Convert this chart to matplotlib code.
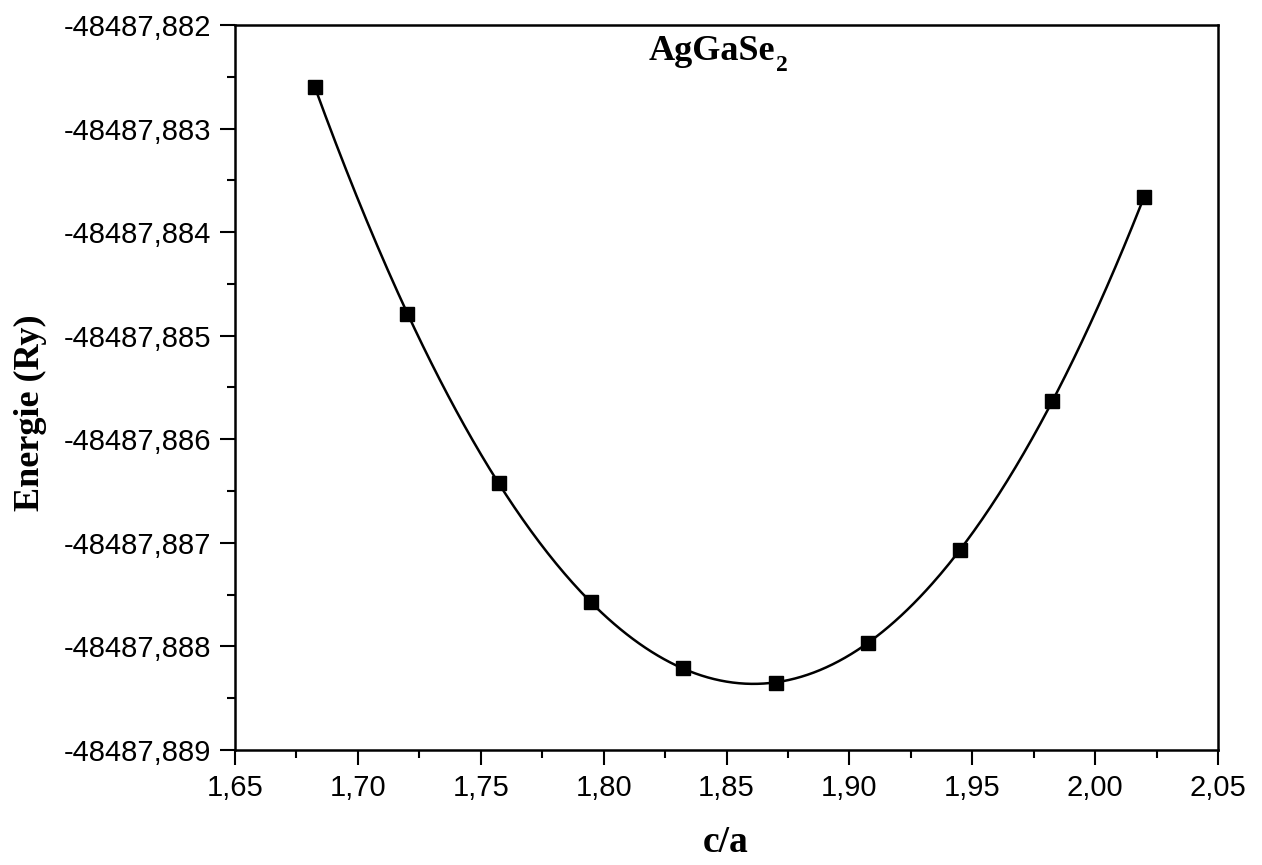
import numpy as np
import matplotlib
matplotlib.use("Agg")
import matplotlib.pyplot as plt
from matplotlib.ticker import AutoMinorLocator, FuncFormatter

# c/a ratios and total energies (Ry)
c_over_a = [1.6825, 1.7200, 1.7575, 1.7950, 1.8325, 1.8700, 1.9075, 1.9450, 1.9825, 2.0200]
energie = [-48487.882596, -48487.884790, -48487.886425, -48487.887574, -48487.888211,
           -48487.888356, -48487.887967, -48487.887069, -48487.885630, -48487.883658]

x_ticks = [1.65, 1.70, 1.75, 1.80, 1.85, 1.90, 1.95, 2.00, 2.05]
y_ticks = [-48487.889, -48487.888, -48487.887, -48487.886, -48487.885,
           -48487.884, -48487.883, -48487.882]

plt.rcParams['font.family'] = ['Liberation Sans', 'DejaVu Sans']

fig = plt.figure(figsize=(12.62, 8.65), dpi=100)
ax = fig.add_axes([235/1262, 1 - 750/865, (1218-235)/1262, (750-25)/865])

x = np.array(c_over_a)
y = np.array(energie)
y0 = y.mean()
# smooth curve through the points (polynomial fit, like Origin's spline)
coef = np.polyfit(x - 1.85, y - y0, 4)
xs = np.linspace(x.min(), x.max(), 400)
ax.plot(xs, np.polyval(coef, xs - 1.85) + y0, color='black', lw=1.8, zorder=2)
ax.plot(x, y, ls='none', marker='s', ms=9.5, color='black', zorder=3)

ax.set_xlim(1.65, 2.05)
ax.set_ylim(-48487.889, -48487.882)
ax.set_xticks(x_ticks)
ax.set_yticks(y_ticks)
ax.xaxis.set_minor_locator(AutoMinorLocator(2))
ax.yaxis.set_minor_locator(AutoMinorLocator(2))
ax.xaxis.set_major_formatter(FuncFormatter(lambda v, p: f"{v:.2f}".replace('.', ',')))
ax.yaxis.set_major_formatter(FuncFormatter(lambda v, p: f"{v:.3f}".replace('.', ',')))

ax.tick_params(which='major', direction='out', length=11, width=1.5, labelsize=21, pad=6)
ax.tick_params(which='minor', direction='out', length=6, width=1.5)
ax.tick_params(top=False, right=False)
for s in ax.spines.values():
    s.set_linewidth(1.8)

# title with a lowered subscript, as in the original
ax.text(0.549, 0.952, 'AgGaSe', transform=ax.transAxes, ha='right', va='baseline',
        family='Liberation Serif', fontweight='bold', fontsize=26)
ax.text(0.550, 0.937, '2', transform=ax.transAxes, ha='left', va='baseline',
        family='Liberation Serif', fontweight='bold', fontsize=17)

fig.text(726/1262, 1 - 843/865, 'c/a', ha='center', va='center',
         family='Liberation Serif', fontweight='bold', fontsize=27)
fig.text(30/1262, 1 - 413/865, 'Energie (Ry)', ha='center', va='center', rotation=90,
         family='Liberation Serif', fontweight='bold', fontsize=26)

fig.savefig('out.png', dpi=100)
